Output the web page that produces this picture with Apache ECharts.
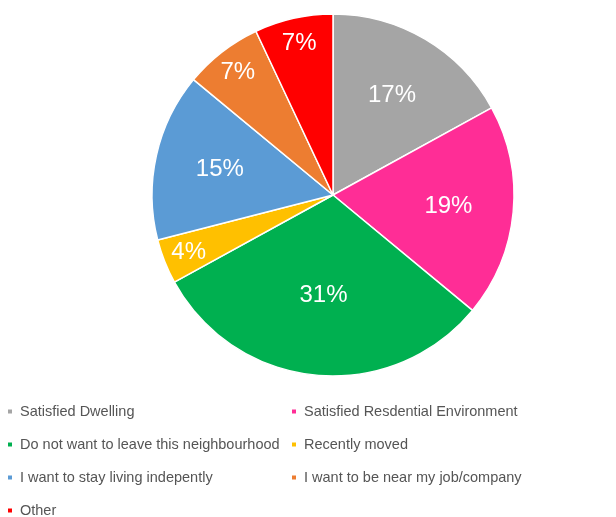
<!DOCTYPE html>
<html>
<head>
<meta charset="utf-8">
<style>
  html, body { margin: 0; padding: 0; background: #fff; }
  #chart { width: 616px; height: 517px; }
</style>
<script src="https://cdn.jsdelivr.net/npm/echarts@6/dist/echarts.min.js"></script>
</head>
<body>
<div id="chart"></div>
<script>
// Reasons for staying: share of respondents per reason
const categories = [
  'Satisfied Dwelling',
  'Satisfied Resdential Environment',
  'Do not want to leave this neighbourhood',
  'Recently moved',
  'I want to stay living indepently',
  'I want to be near my job/company',
  'Other'
];
const shares = [17, 19, 31, 4, 15, 7, 7];
const colors = ['#A5A5A5', '#FF2D96', '#00B050', '#FFC000', '#5B9BD5', '#ED7D31', '#FF0000'];

const CENTER = [333, 195];
const RADIUS = 181;

// Push labels outward along their bisector: smaller slices sit nearer the rim
function labelFactor(v) {
  if (v >= 25) return 0.54;
  if (v >= 10) return 0.62;
  return 0.83;
}

const chart = echarts.init(document.getElementById('chart'));
chart.setOption({
  animation: false,
  color: colors,
  legend: {
    left: 6,
    top: 399,
    width: 600,
    padding: 0,
    orient: 'horizontal',
    icon: 'rect',
    itemWidth: 6,
    itemHeight: 6,
    itemGap: 8,
    selectedMode: false,
    textStyle: {
      fontFamily: 'Liberation Sans',
      fontSize: 14.5,
      color: '#555555',
      width: 262,
      lineHeight: 25,
      padding: [0, 0, 0, 2]
    },
    data: categories
  },
  series: [{
    type: 'pie',
    center: CENTER,
    radius: [0, RADIUS],
    startAngle: 90,
    clockwise: true,
    avoidLabelOverlap: false,
    itemStyle: { borderColor: '#fff', borderWidth: 1.5 },
    label: {
      show: true,
      position: 'inside',
      formatter: '{c}%',
      fontFamily: 'Liberation Sans',
      fontSize: 24,
      color: '#fff'
    },
    labelLine: { show: false },
    emphasis: { disabled: true },
    labelLayout: function (p) {
      const r = p.labelRect;
      const x = r.x + r.width / 2;
      const y = r.y + r.height / 2;
      const k = labelFactor(shares[p.dataIndex]) / 0.5;
      return {
        dx: (x - CENTER[0]) * (k - 1),
        dy: (y - CENTER[1]) * (k - 1)
      };
    },
    data: categories.map((name, i) => ({ name: name, value: shares[i] }))
  }]
});
</script>
</body>
</html>
